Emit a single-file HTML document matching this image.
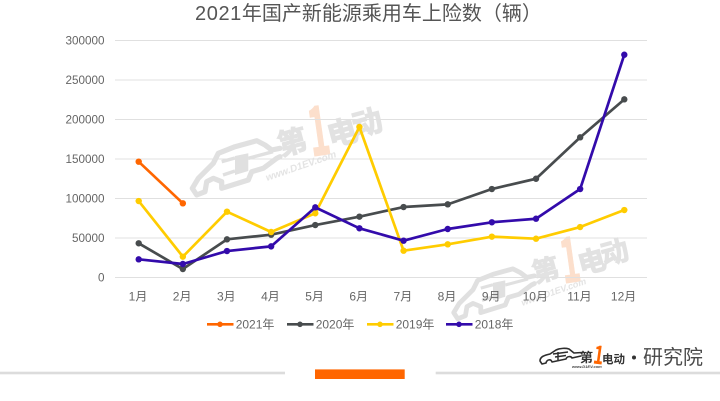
<!DOCTYPE html>
<html lang="zh">
<head>
<meta charset="utf-8">
<title>2021年国产新能源乘用车上险数（辆）</title>
<style>
html,body{margin:0;padding:0;background:#fff;}
#stage{position:relative;width:720px;height:401px;overflow:hidden;background:#fff;font-family:"Liberation Sans","Noto Sans CJK SC",sans-serif;}
svg{position:absolute;left:0;top:0;filter:blur(0.25px);}
text{font-family:"Liberation Sans","Noto Sans CJK SC",sans-serif;}
</style>
</head>
<body>
<div id="stage">
<svg id="chart" width="720" height="401" viewBox="0 0 720 401">
  <text x="195" y="20" font-size="20" fill="#555"><tspan letter-spacing=".6">2021</tspan>年国产新能源乘用车上险数（辆）</text>

  <defs>
    <g id="wm-mark">
      <path d="M192.3 188.3 L198.3 178.3 L213.3 163.3 L218.3 153.3 L235 146.7 L256.7 140.7 L265 145 L271.7 150 L280 148.3 M192.3 188.3 L196.7 195 L205 191.7 L206.7 181.7 L213.3 178.3 L221.7 181.7 L221.7 188.3 L248.3 180 L251.7 171.7 L263.3 168.3 L276.7 158.3 L280 156.7" fill="none" stroke="#e0e0e0" stroke-width="5.2" stroke-linecap="round" stroke-linejoin="round"/>
      <path d="M235 156 L248.3 153.3 L248.3 171 L235 175 Z" fill="#e0e0e0"/>
      <path d="M221.7 161.7 L235 158 M223 175 L235 171 M248.3 158.3 L273 151.7" fill="none" stroke="#e0e0e0" stroke-width="3.4"/>
      <text transform="translate(295 152) rotate(-15)" text-anchor="middle" font-size="29" font-weight="700" fill="#e2e2e2" stroke="#e2e2e2" stroke-width="1.2" style="font-family:'Noto Sans CJK SC',sans-serif">第</text>
      <text transform="translate(322 155) rotate(-8) scale(.5 .95)" text-anchor="middle" font-size="70" font-weight="700" fill="#fcdfcc" stroke="#fcdfcc" stroke-width="1" style="font-family:'Noto Sans CJK SC',sans-serif">1</text>
      <text transform="translate(345 143) rotate(-15)" text-anchor="middle" font-size="30" font-weight="700" fill="#e2e2e2" stroke="#e2e2e2" stroke-width="1.2" style="font-family:'Noto Sans CJK SC',sans-serif">电</text>
      <text transform="translate(370 133) rotate(-15)" text-anchor="middle" font-size="30" font-weight="700" fill="#e2e2e2" stroke="#e2e2e2" stroke-width="1.2" style="font-family:'Noto Sans CJK SC',sans-serif">动</text>
      <text transform="translate(267 181) rotate(-19)" font-size="10" font-weight="700" font-style="italic" fill="#e4e4e4" textLength="74">www.D1EV.com</text>
    </g>
  </defs>

  <use href="#wm-mark"/>
  <use href="#wm-mark" transform="translate(276.8 139.4) scale(.92)"/>

  <g id="grid"></g>
  <g id="series"></g>
  <g id="legend"></g>

  <g>
    <path d="M540 361 C540 356 546 355 550 354 L556 350 C560 348 566 348 569 349 L574 353 L582 352.5 M540 361 L542 364 L546 363 C547 359 551 359 552 362 L566 359 C567 356 571 356 572 358 L581 356" fill="none" stroke="#2e2e2e" stroke-width="1.6" stroke-linecap="round" stroke-linejoin="round"/>
    <path d="M553 354 L568 352 M555 357 L566 355.5 M558 352 L558 360" fill="none" stroke="#2e2e2e" stroke-width="1.5"/>
    <text x="580" y="362" font-size="13" font-weight="700" fill="#333">第</text>
    <text transform="translate(597.5 364) rotate(8) scale(.7 1)" text-anchor="middle" font-size="25" font-weight="700" fill="#f60" style="font-family:'Noto Sans CJK SC',sans-serif">1</text>
    <text x="602" y="363" font-size="11.5" font-weight="700" fill="#333">电动</text>
    <text x="572" y="368" font-size="4" font-weight="700" font-style="italic" fill="#444">www.D1EV.com</text>
    <circle cx="634" cy="357.5" r="2" fill="#333"/>
    <text x="643" y="364" font-size="20" fill="#4a4a4a">研究院</text>
  </g>

  <rect x="0" y="371.7" width="285" height="2.6" fill="#dcdcdc"/>
  <rect x="435.7" y="371.7" width="284.3" height="2.6" fill="#dcdcdc"/>
  <rect x="315" y="369.4" width="89.7" height="9.6" fill="#ff6600"/>
</svg>
</div>
<script>
const months = ["1月","2月","3月","4月","5月","6月","7月","8月","9月","10月","11月","12月"];
const yTicks = [0,50000,100000,150000,200000,250000,300000];
const seriesNames = ["2021年","2020年","2019年","2018年"];
const seriesColors = ["#ff6600","#484c4e","#ffcc00","#330bab"];
const values2021 = [146600,93900];
const values2020 = [43300,10700,48300,54200,66400,77000,89200,92600,112000,125000,177400,225500];
const values2019 = [96800,26400,83300,57600,81300,190500,33900,42000,51700,49100,63900,85400];
const values2018 = [23000,17100,33500,39400,88800,62300,46600,61400,69900,74400,112000,282000];
const allValues = [values2021,values2020,values2019,values2018];

const NS = "http://www.w3.org/2000/svg";
const yMax = 300000;
const plotLeft = 115, plotRight = 647;
const plotTop = 40.5, plotBottom = 277.5;
const firstX = 138.7, lastX = 624.3;

function xScale(i){ return firstX + i * (lastX - firstX) / (months.length - 1); }
function yScale(v){ return plotBottom - (v / yMax) * (plotBottom - plotTop); }

const grid = document.getElementById('grid');
const seriesLayer = document.getElementById('series');
const legend = document.getElementById('legend');

yTicks.forEach(function(t){
  const line = document.createElementNS(NS,'line');
  
  
  line.setAttribute('x1', plotLeft);
  line.setAttribute('x2', plotRight);
  line.setAttribute('y1', yScale(t));
  line.setAttribute('y2', yScale(t));
  line.setAttribute('stroke', '#e0e0e0');
  line.setAttribute('stroke-width', '1');
  grid.appendChild(line);
  const label = document.createElementNS(NS,'text');
  
  
  label.setAttribute('x', 104.5);
  label.setAttribute('y', yScale(t) + 4.2);
  label.setAttribute('text-anchor', 'end');
  label.setAttribute('font-size', '11.7');
  label.setAttribute('fill', '#666');
  label.textContent = t;
  grid.appendChild(label);
});

months.forEach(function(m,i){
  const label = document.createElementNS(NS,'text');
  
  
  label.setAttribute('x', xScale(i) - 0.7);
  label.setAttribute('y', 300.5);
  label.setAttribute('text-anchor', 'middle');
  label.setAttribute('font-size', '12');
  label.setAttribute('fill', '#666');
  label.textContent = m;
  grid.appendChild(label);
});

allValues.forEach(function(vals,s){
  const g = document.createElementNS(NS,'g');
  
  
  const pts = vals.map(function(v,i){ return xScale(i) + ',' + yScale(v); }).join(' ');
  const pl = document.createElementNS(NS,'polyline');
  
  
  pl.setAttribute('points', pts);
  pl.setAttribute('fill', 'none');
  pl.setAttribute('stroke', seriesColors[s]);
  pl.setAttribute('stroke-width', '2.7');
  pl.setAttribute('stroke-linejoin', 'round');
  g.appendChild(pl);
  vals.forEach(function(v,i){
    const c = document.createElementNS(NS,'circle');
    
    
    c.setAttribute('cx', xScale(i));
    c.setAttribute('cy', yScale(v));
    c.setAttribute('r', '3.2');
    c.setAttribute('fill', seriesColors[s]);
    g.appendChild(c);
  });
  seriesLayer.appendChild(g);
});

const legendStep = 80;
const legendStart = 207;
seriesNames.forEach(function(name,s){
  const x = legendStart + s * legendStep - (s === 3 ? 1 : 0);
  const g = document.createElementNS(NS,'g');
  
  
  const line = document.createElementNS(NS,'line');
  
  
  line.setAttribute('x1', x);
  line.setAttribute('x2', x + 26.5);
  line.setAttribute('y1', 324.3);
  line.setAttribute('y2', 324.3);
  line.setAttribute('stroke', seriesColors[s]);
  line.setAttribute('stroke-width', '2.7');
  g.appendChild(line);
  const dot = document.createElementNS(NS,'circle');
  
  
  dot.setAttribute('cx', x + 13);
  dot.setAttribute('cy', 324.3);
  dot.setAttribute('r', '2.8');
  dot.setAttribute('fill', seriesColors[s]);
  g.appendChild(dot);
  const label = document.createElementNS(NS,'text');
  
  
  label.setAttribute('x', x + 28.7);
  label.setAttribute('y', 328.5);
  label.setAttribute('font-size', '12');
  label.setAttribute('fill', '#666');
  label.textContent = name;
  g.appendChild(label);
  legend.appendChild(g);
});
</script>
</body>
</html>
